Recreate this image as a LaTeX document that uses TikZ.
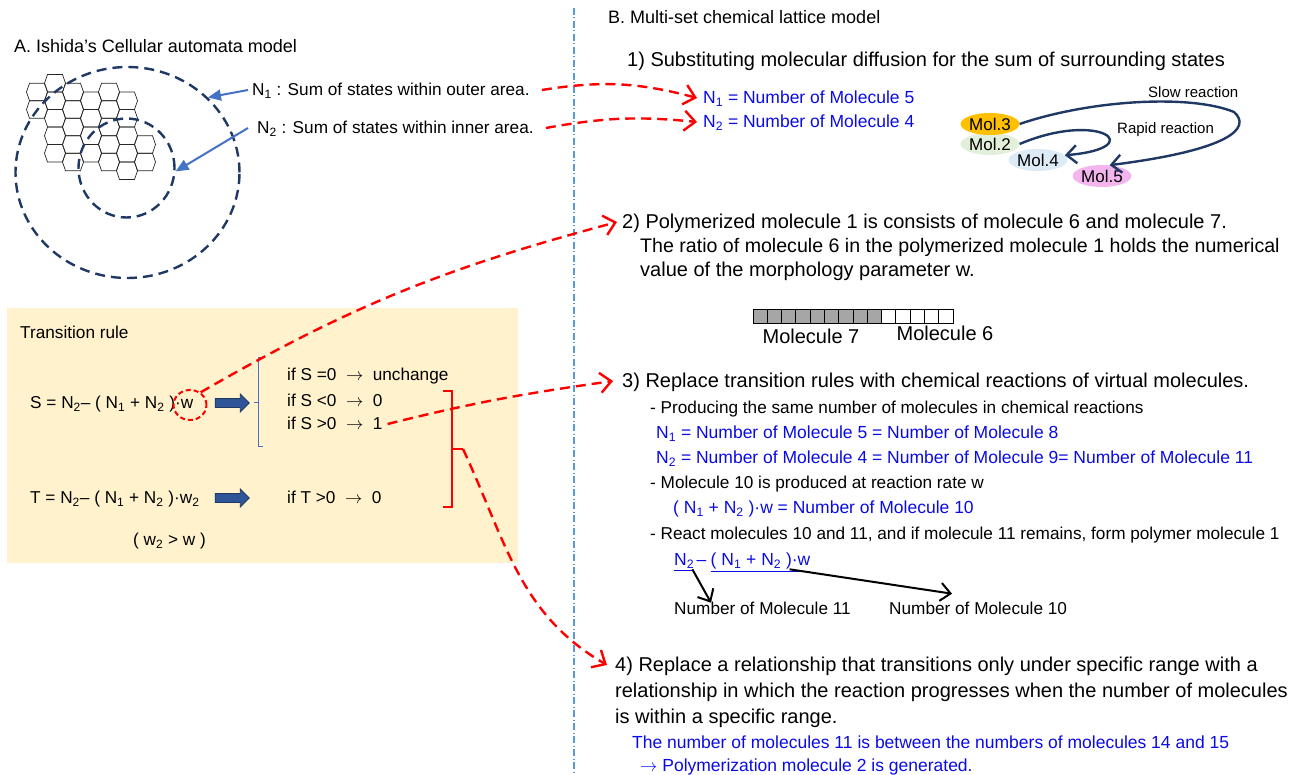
\documentclass[tikz,border=0pt]{standalone}
\usepackage{fontspec}
\setmainfont{Liberation Sans}
\usetikzlibrary{shapes.geometric, shapes.arrows, arrows.meta, positioning, calc}
\definecolor{FigNavy}{HTML}{1F3864}
\definecolor{FigArrow}{HTML}{2E5597}
\definecolor{FigBlue}{HTML}{4472C4}
\definecolor{FigLine}{HTML}{5B9BD5}
\definecolor{FigText}{HTML}{0A0AE6}
\definecolor{FigRed}{HTML}{FF0000}
\definecolor{FigCream}{HTML}{FFF2CC}
\definecolor{FigGray}{HTML}{A6A6A6}
\definecolor{MolOrange}{HTML}{FFC000}
\definecolor{MolGreen}{HTML}{E2EFDA}
\definecolor{MolBlue}{HTML}{DDEBF7}
\definecolor{MolPink}{HTML}{F4B5EE}
\tikzset{
    % Text styles
    headtext/.style={anchor=west, inner sep=0pt, text height=15.5pt, text depth=3.6pt,
        font=\fontsize{18}{21}\selectfont},
    itemtext/.style={anchor=west, inner sep=0pt, text height=17.2pt, text depth=4pt,
        font=\fontsize{20}{24}\selectfont},
    subtext/.style={anchor=west, inner sep=0pt, text height=14.8pt, text depth=3.4pt,
        font=\fontsize{17.2}{21}\selectfont},
    bluetext/.style={subtext, text=FigText, font=\fontsize{17.5}{21}\selectfont},
    moltext/.style={anchor=west, inner sep=0pt, font=\fontsize{15}{18}\selectfont},
    % Shape styles
    molblob/.style={ellipse, minimum width=58pt, minimum height=22pt, inner sep=0pt,
        font=\fontsize{17}{19}\selectfont},
    areacircle/.style={ellipse, draw=FigNavy, line width=2.4pt, dash pattern=on 10pt off 6pt, inner sep=0pt},
    hexline/.style={draw=black!85, line width=0.7pt},
    fatarrow/.style={single arrow, fill=FigArrow, draw=FigNavy, line width=0.8pt,
        minimum height=34pt, inner xsep=0pt, inner ysep=4pt, single arrow head extend=4.5pt},
    % Arrow styles
    redarrow/.style={FigRed, line width=2.4pt, dash pattern=on 10pt off 6pt,
        -{Straight Barb[length=11pt,width=20pt]}},
    bluearrow/.style={FigBlue, line width=2pt, -{Triangle[length=13pt,width=11pt]}},
    navyarrow/.style={FigNavy, line width=2.4pt, -{Straight Barb[length=10pt,width=18pt]}},
    blackarrow/.style={black, line width=2pt, -{Straight Barb[length=10pt,width=18pt]}}
}
\begin{document}
\begin{tikzpicture}[x=1pt, y=1pt]
\useasboundingbox (0,0) rectangle (1290,-775);

% headings and divider
\node[headtext] (titleA) at (14,-47) {A. Ishida’s Cellular automata model};
\node[headtext] (titleB) at (608,-18) {B. Multi-set chemical lattice model};
\draw[FigLine, line width=1.2pt, dash pattern=on 7pt off 2.5pt on 1pt off 2.5pt] (574,-8) -- (574,-775);

% hexagon cells
\foreach \c/\rows in {0/{0,1}, 1/{0,...,4}, 2/{0,...,4}, 3/{1,...,4}, 4/{0,...,4}, 5/{1,...,5}, 6/{3,4}} {
    \foreach \k in \rows {
        \pgfmathsetmacro{\hx}{37+18*\c}
        \pgfmathsetmacro{\hy}{-92-17.5*\k+8.75*mod(\c,2)}
        \draw[hexline] (\hx,\hy) ++(-10.5,0) -- ++(3,8.75) -- ++(15,0) -- ++(3,-8.75) -- ++(-3,-8.75) -- ++(-15,0) -- cycle;
    }
}
\node[areacircle, minimum width=224pt, minimum height=211pt] (outer) at (127.5,-172.5) {};
\node[areacircle, minimum width=96pt, minimum height=99pt] (inner) at (126.5,-168) {};

\node[subtext] (outerlab) at (252,-90) {N\textsubscript{1} : Sum of states within outer area.};
\node[subtext] (innerlab) at (257,-128) {N\textsubscript{2} : Sum of states within inner area.};
\draw[bluearrow] ([xshift=-4pt]outerlab.west) -- (outer.43);
\draw[bluearrow] ([xshift=-9pt]innerlab.west) -- (inner.-4);

% transition rule box
\node[fill=FigCream, minimum width=511pt, minimum height=255pt, anchor=north west, inner sep=0pt] (rulebox) at (7,-308) {};
\node[subtext] (rulehead) at (20,-333) {Transition rule};
\node[subtext] (seq) at (30,-403) {S = N\textsubscript{2}– ( N\textsubscript{1} + N\textsubscript{2} )·w};
\node[subtext] (teq) at (30,-498) {T = N\textsubscript{2}– ( N\textsubscript{1} + N\textsubscript{2} )·w\textsubscript{2}};
\node[subtext] (wcond) at (133,-540) {( w\textsubscript{2} > w )};
\node[fatarrow] (sarrow) at (230,-403) {};
\node[fatarrow] (tarrow) at (230,-498) {};
\node[subtext] (case1) at (287,-375) {if S =0~~$\rightarrow$~~unchange};
\node[subtext] (case2) at (287,-401) {if S <0~~$\rightarrow$~~0};
\node[subtext] (case3) at (287,-424) {if S >0~~$\rightarrow$~~1};
\node[subtext] (case4) at (287,-498) {if T >0~~$\rightarrow$~~0};
\draw[FigBlue, line width=1pt] (263,-358) -- (258,-358) -- (258,-446) -- (263,-446);
\draw[FigBlue, line width=1pt] (258,-402) -- (254,-402);
\node[draw=FigRed, line width=2pt, dash pattern=on 5pt off 3pt, ellipse, minimum width=33pt, minimum height=30pt, inner sep=0pt] (wcirc) at (190,-405) {};
\draw[FigRed, line width=2pt] (443,-391) -- (452,-391) -- (452,-507) -- (443,-507);
\draw[FigRed, line width=2pt] (452,-449) -- (463,-449);
\coordinate (brk) at (463,-449);

% part 1
\node[itemtext] (item1) at (627,-60) {1) Substituting molecular diffusion for the sum of surrounding states};
\node[bluetext] (n1mol) at (703,-98) {N\textsubscript{1} = Number of Molecule 5};
\node[bluetext] (n2mol) at (703,-122) {N\textsubscript{2} = Number of Molecule 4};
\node[molblob, fill=MolGreen] (mol2) at (990,-144) {Mol.2};
\node[molblob, fill=MolOrange] (mol3) at (990,-124) {Mol.3};
\node[molblob, fill=MolBlue] (mol4) at (1038,-160) {Mol.4};
\node[molblob, fill=MolPink] (mol5) at (1102,-176) {Mol.5};
\node[moltext] (slowlab) at (1148,-92) {Slow reaction};
\node[moltext] (rapidlab) at (1117,-130) {Rapid reaction};
\draw[navyarrow] (mol3.east) .. controls (1090,-100) and (1190,-94) .. (1234,-112)
    .. controls (1252,-128) and (1230,-150) .. (mol5.55);
\draw[navyarrow] (mol2.east) .. controls (1100,-110) and (1150,-148) .. (mol4.10);
\draw[redarrow] ([xshift=12pt]outerlab.east) to[bend left=12] ([xshift=-6pt]n1mol.west);
\draw[redarrow] ([xshift=12pt]innerlab.east) to[bend left=8] ([xshift=-6pt]n2mol.west);

% part 2
\node[itemtext] (item2) at (622,-222) {2) Polymerized molecule 1 is consists of molecule 6 and molecule 7.};
\node[itemtext, font=\fontsize{19.6}{24}\selectfont] (item2b) at (640,-246) {The ratio of molecule 6 in the polymerized molecule 1 holds the numerical};
\node[itemtext] (item2c) at (640,-270) {value of the morphology parameter w.};
\foreach \i in {0,...,8}
    \draw[fill=FigGray, line width=0.8pt] (753+14.28*\i,-309) rectangle ++(14.28,-14);
\foreach \i in {9,...,13}
    \draw[fill=white, line width=0.8pt] (753+14.28*\i,-309) rectangle ++(14.28,-14);
\node[itemtext, anchor=center] (mol7lab) at (811,-337) {Molecule 7};
\node[itemtext, anchor=center] (mol6lab) at (945,-334) {Molecule 6};
\draw[redarrow] (wcirc.50) to[out=30,in=195] ([xshift=-5pt]item2.west);

% part 3
\node[itemtext] (item3) at (622,-381) {3) Replace transition rules with chemical reactions of virtual molecules.};
\node[subtext] (sub1) at (650,-408) {- Producing the same number of molecules in chemical reactions};
\node[bluetext] (eq1) at (656,-433) {N\textsubscript{1} = Number of Molecule 5 = Number of Molecule 8};
\node[bluetext] (eq2) at (656,-458) {N\textsubscript{2} = Number of Molecule 4 = Number of Molecule 9= Number of Molecule 11};
\node[subtext] (sub2) at (650,-483) {- Molecule 10 is produced at reaction rate w};
\node[bluetext] (eq3) at (673,-508) {( N\textsubscript{1} + N\textsubscript{2} )·w = Number of Molecule 10};
\node[subtext] (sub3) at (650,-534) {- React molecules 10 and 11, and if molecule 11 remains, form polymer molecule 1};
\node[bluetext] (fn2) at (674,-560) {\underline{N\textsubscript{2}}};
\node[bluetext, right=2pt of fn2] (fminus) {–};
\node[bluetext, right=4pt of fminus] (fsum) {\underline{( N\textsubscript{1} + N\textsubscript{2} )·w}};
\node[subtext] (num11) at (674,-609) {Number of Molecule 11};
\node[subtext] (num10) at (889,-609) {Number of Molecule 10};
\draw[blackarrow] ([xshift=-2pt]fn2.south east) -- ([xshift=37pt,yshift=-3pt]num11.north west);
\draw[blackarrow] ([xshift=-21pt]fsum.south east) -- ([xshift=63pt,yshift=6pt]num10.north west);
\draw[redarrow] ([xshift=5pt]case3.east) to[out=14,in=188] ([xshift=-9pt]item3.west);

% part 4
\node[itemtext] (item4) at (615,-665) {4) Replace a relationship that transitions only under specific range with a};
\node[itemtext] (item4b) at (615,-691) {relationship in which the reaction progresses when the number of molecules};
\node[itemtext] (item4c) at (615,-717) {is within a specific range.};
\node[bluetext] (res1) at (632,-743) {The number of molecules 11 is between the numbers of molecules 14 and 15};
\node[bluetext] (res2) at (640,-766) {$\rightarrow$ Polymerization molecule 2 is generated.};
\draw[redarrow] (brk) to[out=-65,in=150] ([xshift=-8pt]item4.west);
\end{tikzpicture}
\end{document}
